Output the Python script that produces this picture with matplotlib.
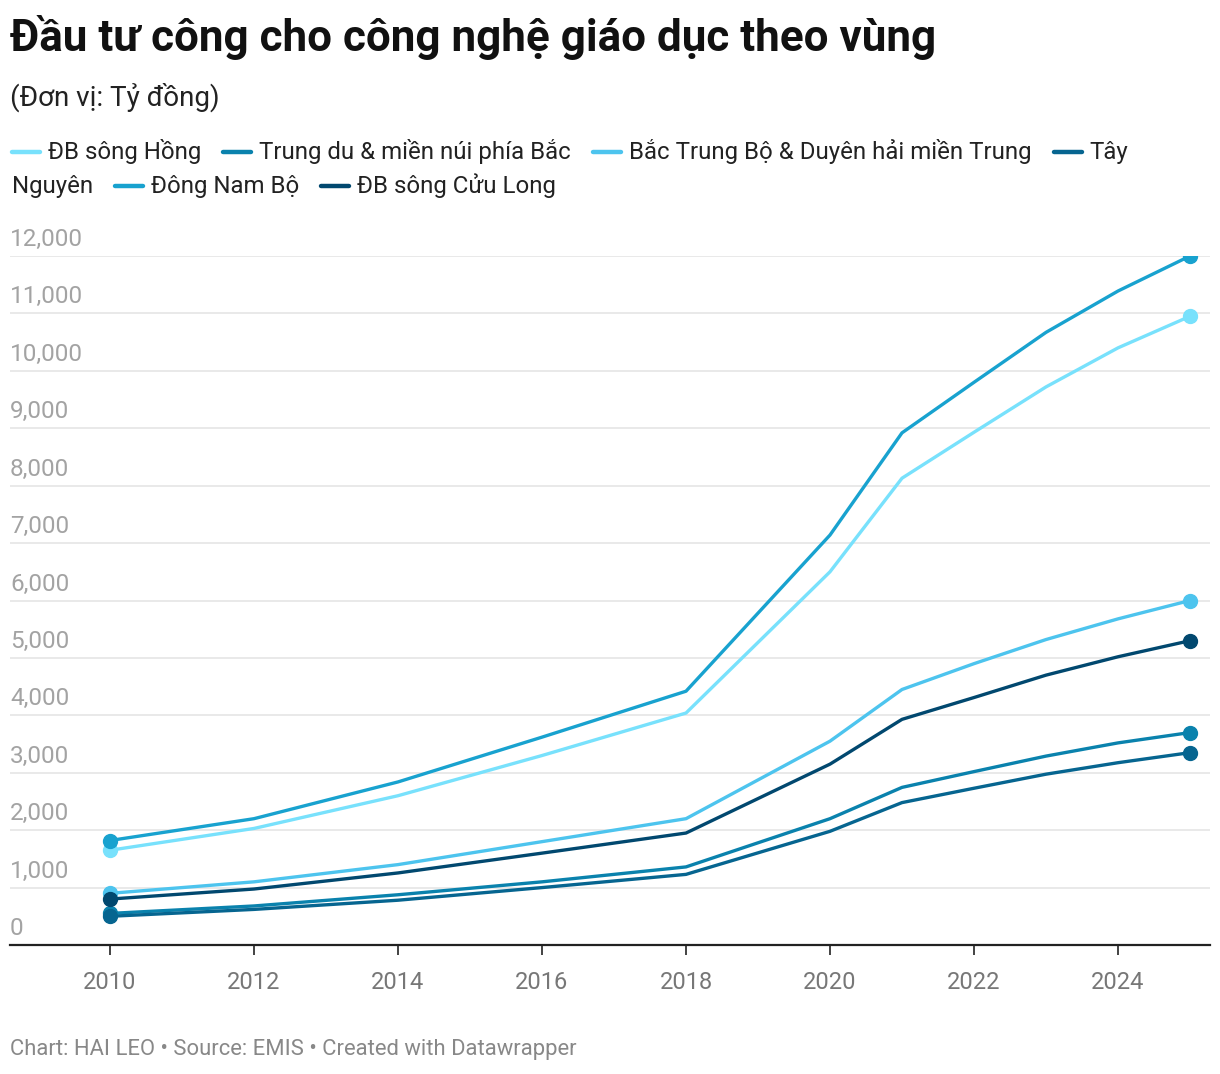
import matplotlib
matplotlib.use("Agg")
import matplotlib.pyplot as plt
from matplotlib.lines import Line2D
from matplotlib.transforms import offset_copy

plt.rcParams["font.family"] = ["Roboto", "DejaVu Sans"]

# data (ty dong)
years = [2010, 2012, 2014, 2016, 2018, 2020, 2021, 2022, 2023, 2024, 2025]
regions = [
    "ĐB sông Hồng",
    "Trung du & miền núi phía Bắc",
    "Bắc Trung Bộ & Duyên hải miền Trung",
    "Tây Nguyên",
    "Đông Nam Bộ",
    "ĐB sông Cửu Long",
]
dbsh = [1650, 2030, 2600, 3300, 4040, 6500, 8130, 8930, 9720, 10400, 10950]
trung_du = [550, 680, 875, 1100, 1360, 2200, 2745, 3020, 3290, 3520, 3700]
bac_trung_bo = [900, 1100, 1400, 1800, 2200, 3550, 4450, 4900, 5320, 5680, 6000]
tay_nguyen = [500, 620, 780, 1000, 1230, 1980, 2480, 2730, 2975, 3175, 3350]
dong_nam_bo = [1820, 2200, 2840, 3620, 4420, 7140, 8920, 9800, 10670, 11390, 12000]
dbscl = [800, 975, 1255, 1600, 1950, 3150, 3930, 4310, 4700, 5020, 5300]
series = [dbsh, trung_du, bac_trung_bo, tay_nguyen, dong_nam_bo, dbscl]
colors = ["#78e1fc", "#0a82ad", "#4dc4ee", "#066590", "#18a2cf", "#01486f"]

y_ticks = list(range(0, 12001, 1000))
x_ticks = list(range(2010, 2025, 2))

W, H = 1220, 1074
fig = plt.figure(figsize=(W / 100, H / 100), dpi=100)

# plot area in pixels: x 10..1210, y 256..945
ax = fig.add_axes([10 / W, 1 - 945 / H, 1200 / W, (945 - 256) / H])
ax.set_xlim(2010 - 100 / 72, 2025 + 20 / 72)
ax.set_ylim(0, 12000)

for vals, col in zip(series, colors):
    ax.plot(years, vals, color=col, lw=2.4, solid_capstyle="round", zorder=3)
    ax.plot([years[0], years[-1]], [vals[0], vals[-1]], "o", color=col,
            ms=10, zorder=4)

# gridlines and y labels sitting above them
for v in y_ticks:
    if v > 0:
        ax.axhline(v, color="#e5e5e5", lw=1.2, zorder=1)
ax.set_yticks([])
lbl_tr = offset_copy(ax.get_yaxis_transform(), fig=fig, x=0, y=5, units="dots")
for v in y_ticks:
    ax.text(0, v, f"{v:,}", transform=lbl_tr, ha="left", va="bottom",
            fontsize=17.5, color="#a3a3a3", clip_on=False)

for s in ["top", "right", "left"]:
    ax.spines[s].set_visible(False)
ax.spines["bottom"].set_color("#222222")
ax.spines["bottom"].set_linewidth(1.6)
ax.set_xticks(x_ticks)
ax.set_xticklabels([str(x) for x in x_ticks])
ax.tick_params(axis="x", length=7, width=1.2, color="#222222", pad=12,
               labelsize=17, labelcolor="#777777")

# title, subtitle, footer
fig.text(10 / W, 1 - 37 / H, "Đầu tư công cho công nghệ giáo dục theo vùng",
         fontsize=31.7, fontweight="bold", color="#111111", va="center")
fig.text(10 / W, 1 - 97 / H, "(Đơn vị: Tỷ đồng)", fontsize=20,
         color="#222222", va="center")
fig.text(10 / W, 1 - 1049 / H,
         "Chart: HAI LEO • Source: EMIS • Created with Datawrapper",
         fontsize=15.8, color="#888888", va="center")

# legend laid out like the reference (wraps inside "Tây Nguyên")
renderer = fig.canvas.get_renderer()
legend_fs = 17.25


def put_text(x, y, s):
    t = fig.text(x / W, 1 - y / H, s, fontsize=legend_fs, color="#222222",
                 va="center", ha="left")
    return t.get_window_extent(renderer).width


def put_swatch(x, y, col):
    fig.add_artist(Line2D([(x) / W, (x + 28) / W], [1 - y / H, 1 - y / H],
                          color=col, lw=3.2, solid_capstyle="round"))


x, y = 12, 152
for i, (name, col) in enumerate(zip(regions, colors)):
    put_swatch(x, y, col)
    x += 36
    if name == "Tây Nguyên":
        x += put_text(x, y, "Tây")
        x, y = 12, 186
        x += put_text(x, y, "Nguyên")
    else:
        x += put_text(x, y, name)
    x += 22

fig.savefig("out.png", dpi=100)
